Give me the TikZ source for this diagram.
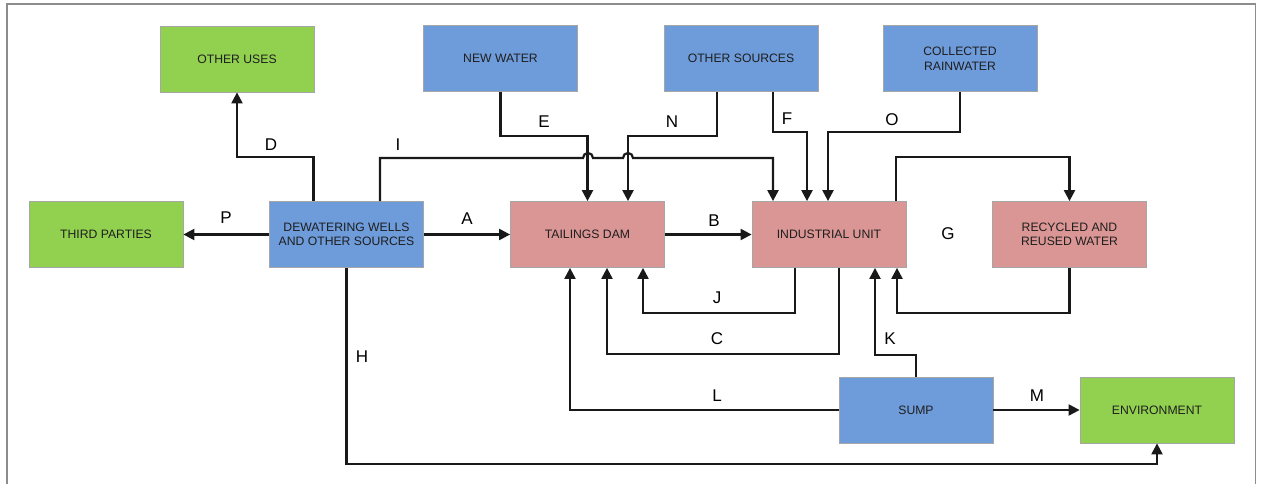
\documentclass[tikz,border=0pt]{standalone}
\usepackage{fontspec}
\setmainfont{Liberation Sans}
\usetikzlibrary{arrows.meta}

\definecolor{boxgreen}{HTML}{92D050}
\definecolor{boxblue}{HTML}{6E9BD9}
\definecolor{boxpink}{HTML}{DA9694}
\definecolor{boxtext}{HTML}{1E1E1E}
\definecolor{framegray}{HTML}{8C8C8C}

\tikzset{
  box/.style={rectangle, draw=black!35, line width=0.8pt,
    minimum width=154pt, minimum height=66pt, inner sep=0pt,
    align=center, text=boxtext,
    font=\fontsize{12.2}{14.5}\selectfont},
  greenbox/.style={box, fill=boxgreen},
  bluebox/.style={box, fill=boxblue},
  pinkbox/.style={box, fill=boxpink},
  flow/.style={line width=2.2pt, line join=miter, color=black!90,
    -{Triangle[length=11pt,width=11pt]}},
  tag/.style={font=\fontsize{17}{18}\selectfont, inner sep=0pt}
}

\begin{document}
\begin{tikzpicture}[x=1pt, y=-1pt]
  \useasboundingbox (0,0) rectangle (1261,484);

  % outer frame (open at the bottom)
  \draw[framegray, line width=1.5pt] (7,484) -- (7,4) -- (1255.5,4) -- (1255.5,484);

  % boxes
  \node[greenbox] (OU) at (237,59)     {OTHER USES};
  \node[greenbox] (TP) at (106,234.5)  {THIRD PARTIES};
  \node[bluebox]  (DW) at (346.5,234.5){DEWATERING WELLS\\AND OTHER SOURCES};
  \node[bluebox]  (NW) at (500.5,58.5) {NEW WATER};
  \node[bluebox]  (OS) at (741,58.5)   {OTHER SOURCES};
  \node[bluebox]  (CR) at (960,58.5)   {COLLECTED\\RAINWATER};
  \node[pinkbox]  (TD) at (587.5,234.5){TAILINGS DAM};
  \node[pinkbox]  (IU) at (829,234.5)  {INDUSTRIAL UNIT};
  \node[pinkbox]  (RR) at (1069.5,234.5){RECYCLED AND\\REUSED WATER};
  \node[bluebox]  (SU) at (916,410)    {SUMP};
  \node[greenbox] (EN) at (1157,410)   {ENVIRONMENT};

  % line-jump points where I crosses E and N
  \coordinate (hopE) at (588,158);
  \coordinate (hopN) at (628,158);

  % straight flows
  \draw[flow] (DW.east) -- (TD.west);
  \draw[flow] (TD.east) -- (IU.west);
  \draw[flow] (DW.west) -- (TP.east);
  \draw[flow] (SU.east) -- (EN.west);

  % D: dewatering -> other uses
  \draw[flow] ([xshift=-33pt]DW.north) -- ++(0,-44) -| (OU.south);
  % I: dewatering -> industrial unit, hopping over E and N
  \draw[flow] ([xshift=33.5pt]DW.north) |- ([xshift=-5pt]hopE)
      arc[start angle=180, end angle=0, radius=5pt]
      -- ([xshift=-5pt]hopN)
      arc[start angle=180, end angle=0, radius=5pt]
      -| ([xshift=-56pt]IU.north);
  % E: new water -> tailings dam
  \draw[flow] (NW.south) -- ++(0,44) -| (TD.north);
  % N: other sources -> tailings dam
  \draw[flow] ([xshift=-24pt]OS.south) -- ++(0,44) -| ([xshift=40.5pt]TD.north);
  % F: other sources -> industrial unit
  \draw[flow] ([xshift=32pt]OS.south) -- ++(0,40) -| ([xshift=-22pt]IU.north);
  % O: collected rainwater -> industrial unit
  \draw[flow] (CR.south) -- ++(0,40) -| ([xshift=-1pt]IU.north);
  % G: industrial unit <-> recycled water
  \draw[flow] ([xshift=67pt]IU.north) -- ++(0,-44) -| (RR.north);
  \draw[flow] (RR.south) -- ++(0,45) -| ([xshift=68pt]IU.south);
  % J and C: industrial unit -> tailings dam
  \draw[flow] ([xshift=-34pt]IU.south) -- ++(0,45) -| ([xshift=55.5pt]TD.south);
  \draw[flow] ([xshift=10pt]IU.south) -- ++(0,86) -| ([xshift=19.5pt]TD.south);
  % L: sump -> tailings dam
  \draw[flow] (SU.west) -| ([xshift=-17.5pt]TD.south);
  % K: sump -> industrial unit
  \draw[flow] (SU.north) -- ++(0,-22) -| ([xshift=46pt]IU.south);
  % H: dewatering -> environment
  \draw[flow] (DW.south) -- ++(0,196) -| (EN.south);

  % flow letters
  \node[tag] (lD) at (271,145) {D};
  \node[tag] (lI) at (398,145) {I};
  \node[tag] (lE) at (544,122) {E};
  \node[tag] (lN) at (672,122) {N};
  \node[tag] (lF) at (787,119) {F};
  \node[tag] (lO) at (892,120) {O};
  \node[tag] (lG) at (948,234) {G};
  \node[tag] (lA) at (467,219) {A};
  \node[tag] (lB) at (714,221) {B};
  \node[tag] (lP) at (226,218) {P};
  \node[tag] (lJ) at (717,298) {J};
  \node[tag] (lC) at (717,339) {C};
  \node[tag] (lL) at (717,396) {L};
  \node[tag] (lK) at (890,339) {K};
  \node[tag] (lM) at (1037,396) {M};
  \node[tag] (lH) at (362,357) {H};
\end{tikzpicture}
\end{document}
